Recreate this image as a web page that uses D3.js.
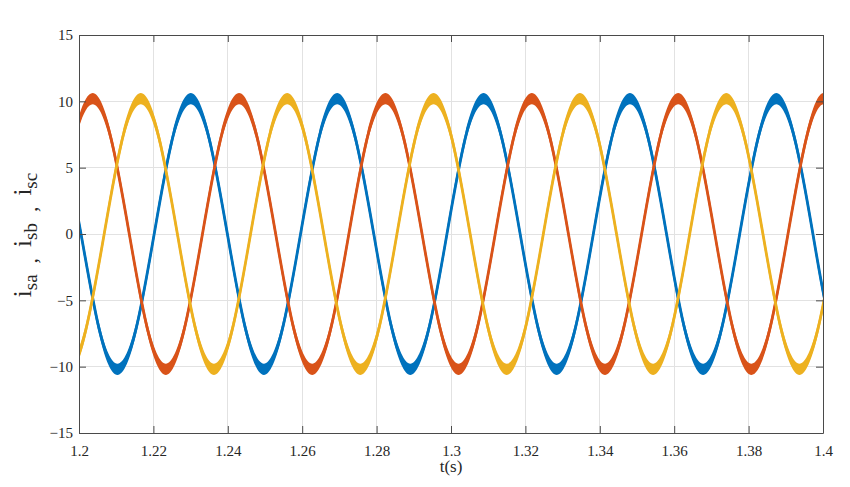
<!DOCTYPE html>
<html><head><meta charset="utf-8">
<script src="https://cdn.jsdelivr.net/npm/d3@7/dist/d3.min.js"></script>
<style>body{margin:0;background:#fff}svg{display:block}svg text{font-family:"Liberation Serif","Times New Roman",serif !important}</style>
</head><body><svg id="c" width="850" height="487"></svg>
<script>
// Data (time in s, current in A)
const xTicks = [1.2, 1.22, 1.24, 1.26, 1.28, 1.3, 1.32, 1.34, 1.36, 1.38, 1.4];
const yTicks = [-15, -10, -5, 0, 5, 10, 15];

const isaT = [1.19562,1.20054,1.20546,1.21038,1.21529,1.22021,1.22513,1.23005,1.23497,1.23989,1.24481,1.24973,1.25464,1.25956,1.26448,1.26940,1.27432,1.27924,1.28416,1.28908,1.29399,1.29891,1.30383,1.30875,1.31367,1.31859,1.32351,1.32843,1.33334,1.33826,1.34318,1.34810,1.35302,1.35794,1.36286,1.36778,1.37269,1.37761,1.38253,1.38745,1.39237,1.39729,1.40221,1.40713];
const isaV = [7.21,0,-7.21,-10.2,-7.21,0,7.21,10.2,7.21,0,-7.21,-10.2,-7.21,0,7.21,10.2,7.21,0,-7.21,-10.2,-7.21,0,7.21,10.2,7.21,0,-7.21,-10.2,-7.21,0,7.21,10.2,7.21,0,-7.21,-10.2,-7.21,0,7.21,10.2,7.21,0,-7.21,-10.2];

const isbT = [1.19384,1.19876,1.20368,1.20860,1.21352,1.21844,1.22336,1.22827,1.23319,1.23811,1.24303,1.24795,1.25287,1.25779,1.26271,1.26762,1.27254,1.27746,1.28238,1.28730,1.29222,1.29714,1.30206,1.30697,1.31189,1.31681,1.32173,1.32665,1.33157,1.33649,1.34141,1.34632,1.35124,1.35616,1.36108,1.36600,1.37092,1.37584,1.38076,1.38567,1.39059,1.39551,1.40043,1.40535];
const isbV = [0,7.21,10.2,7.21,0,-7.21,-10.2,-7.21,0,7.21,10.2,7.21,0,-7.21,-10.2,-7.21,0,7.21,10.2,7.21,0,-7.21,-10.2,-7.21,0,7.21,10.2,7.21,0,-7.21,-10.2,-7.21,0,7.21,10.2,7.21,0,-7.21,-10.2,-7.21,0,7.21,10.2,7.21];

const iscT = [1.19202,1.19693,1.20185,1.20677,1.21169,1.21661,1.22153,1.22645,1.23137,1.23629,1.24120,1.24612,1.25104,1.25596,1.26088,1.26580,1.27072,1.27564,1.28055,1.28547,1.29039,1.29531,1.30023,1.30515,1.31007,1.31499,1.31990,1.32482,1.32974,1.33466,1.33958,1.34450,1.34942,1.35434,1.35925,1.36417,1.36909,1.37401,1.37893,1.38385,1.38877,1.39369,1.39860,1.40352];
const iscV = [-7.21,-10.2,-7.21,0,7.21,10.2,7.21,0,-7.21,-10.2,-7.21,0,7.21,10.2,7.21,0,-7.21,-10.2,-7.21,0,7.21,10.2,7.21,0,-7.21,-10.2,-7.21,0,7.21,10.2,7.21,0,-7.21,-10.2,-7.21,0,7.21,10.2,7.21,0,-7.21,-10.2,-7.21,0];

const seriesNames = ["isa", "isb", "isc"];
const seriesColors = ["#0072BD", "#D95319", "#EDB120"];

const series = [
  {name: seriesNames[0], t: isaT, v: isaV, color: seriesColors[0]},
  {name: seriesNames[1], t: isbT, v: isbV, color: seriesColors[1]},
  {name: seriesNames[2], t: iscT, v: iscV, color: seriesColors[2]}
];

const L = 79, R = 823, T = 35, B = 433;
const svg = d3.select("#c");
const x = d3.scaleLinear().domain([1.2, 1.4]).range([L, R]);
const y = d3.scaleLinear().domain([-15, 15]).range([B, T]);
const axisColor = "#4a4a4a";

// grid
const g = svg.append("g");
g.selectAll(".gx").data(xTicks.slice(1, -1)).enter().append("line")
  .attr("x1", d => x(d)).attr("x2", d => x(d)).attr("y1", T).attr("y2", B)
  .attr("stroke", "#e2e2e2").attr("stroke-width", 1).attr("shape-rendering", "crispEdges");
g.selectAll(".gy").data(yTicks.slice(1, -1)).enter().append("line")
  .attr("y1", d => y(d)).attr("y2", d => y(d)).attr("x1", L).attr("x2", R)
  .attr("stroke", "#e2e2e2").attr("stroke-width", 1).attr("shape-rendering", "crispEdges");

// clip
svg.append("clipPath").attr("id", "clip").append("rect")
  .attr("x", L).attr("y", T).attr("width", R - L).attr("height", B - T);

const plot = svg.append("g").attr("clip-path", "url(#clip)");
const noise = 0.42;
series.forEach(s => {
  const pts = s.t.map((t, i) => [t, s.v[i]]);
  const area = d3.area().x(d => x(d[0])).y0(d => y(d[1] - noise)).y1(d => y(d[1] + noise)).curve(d3.curveNatural);
  const line = d3.line().x(d => x(d[0])).y(d => y(d[1])).curve(d3.curveNatural);
  plot.append("path").datum(pts).attr("d", area).attr("fill", s.color).attr("stroke", "none");
  plot.append("path").datum(pts).attr("d", line).attr("fill", "none")
    .attr("stroke", s.color).attr("stroke-width", 2.8);
});

// axes (MATLAB-like box with inward ticks)
const tl = 7;
const xAxisB = d3.axisBottom(x).tickValues(xTicks).tickSizeInner(-tl).tickSizeOuter(0).tickFormat(d3.format("~g")).tickPadding(12);
const xAxisT = d3.axisTop(x).tickValues(xTicks).tickSizeInner(-tl).tickSizeOuter(0).tickFormat("");
const yAxisL = d3.axisLeft(y).tickValues(yTicks).tickSizeInner(-tl).tickSizeOuter(0).tickFormat(d3.format("~g")).tickPadding(6);
const yAxisR = d3.axisRight(y).tickValues(yTicks).tickSizeInner(-tl).tickSizeOuter(0).tickFormat("");

function style(sel) {
  sel.attr("font-family", null).attr("font-size", null);
  sel.selectAll("path.domain").attr("stroke", axisColor).attr("stroke-width", 1);
  sel.selectAll(".tick line").attr("stroke", axisColor).attr("stroke-width", 1);
  sel.selectAll(".tick text").attr("fill", "#262626").style("font-size", "15px");
}
style(svg.append("g").attr("transform", `translate(0,${B})`).call(xAxisB));
style(svg.append("g").attr("transform", `translate(0,${T})`).call(xAxisT));
style(svg.append("g").attr("transform", `translate(${L},0)`).call(yAxisL));
style(svg.append("g").attr("transform", `translate(${R},0)`).call(yAxisR));

// axis labels
svg.append("text").attr("x", 451).attr("y", 472).attr("text-anchor", "middle")
  .style("font-size", "17px").attr("fill", "#262626").text("t(s)");

const yl = svg.append("text").attr("transform", "translate(31,235) rotate(-90)")
  .attr("text-anchor", "middle").attr("fill", "#262626");
const parts = [["i","sa"],["i","sb"],["i","sc"]];
parts.forEach((p, i) => {
  yl.append("tspan").text(p[0]).attr("dy", i === 0 ? 0 : -6).style("font-size", "25px");
  yl.append("tspan").text(p[1]).attr("dy", 6).style("font-size", "19px");
  if (i < 2) yl.append("tspan").text("\u00a0\u00a0,\u00a0\u00a0").style("font-size", "22px");
});
</script></body></html>
